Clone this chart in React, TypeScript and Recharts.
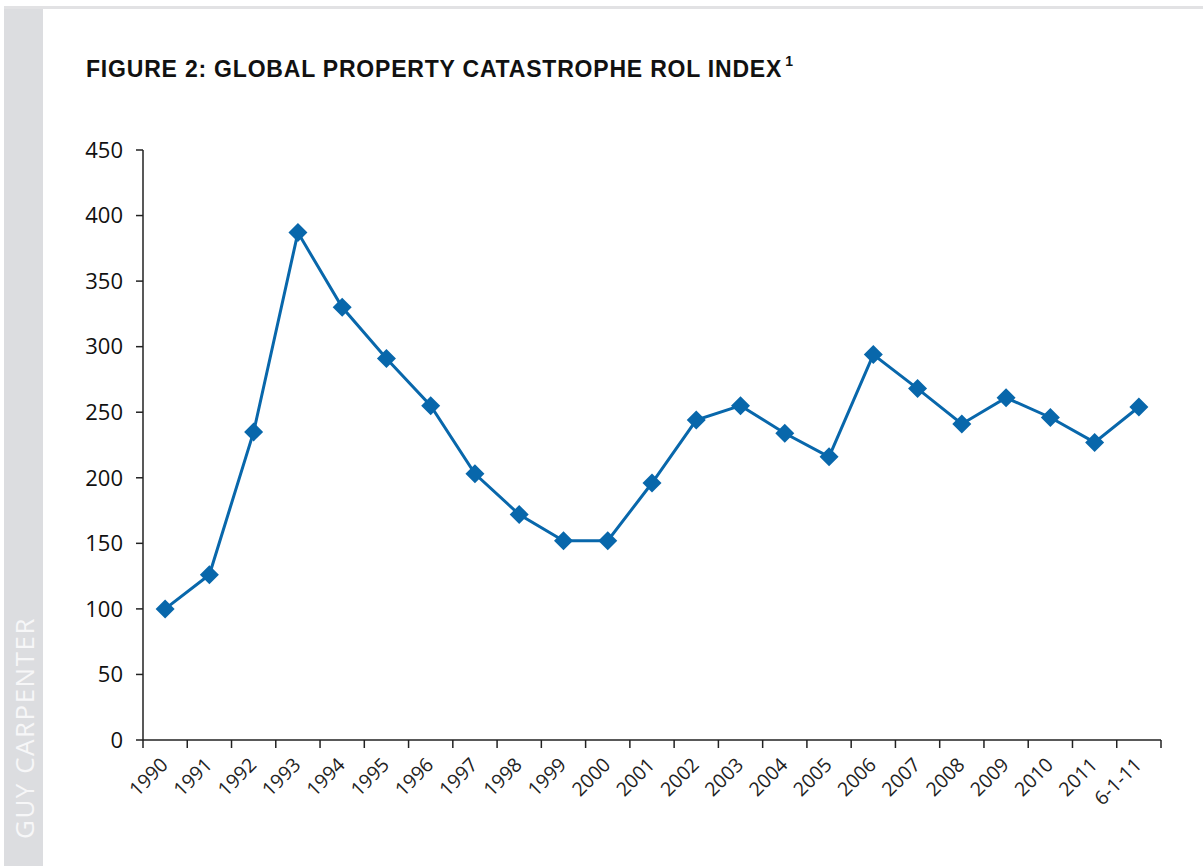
import { Line, LineChart, XAxis, YAxis } from 'recharts';

const years: string[] = [
  '1990', '1991', '1992', '1993', '1994', '1995', '1996', '1997', '1998', '1999', '2000', '2001',
  '2002', '2003', '2004', '2005', '2006', '2007', '2008', '2009', '2010', '2011', '6-1-11',
];
const rolIndex: number[] = [
  100, 126, 235, 387, 330, 291, 255, 203, 172, 152, 152, 196,
  244, 255, 234, 216, 294, 268, 241, 261, 246, 227, 254,
];
const yTicks: number[] = [0, 50, 100, 150, 200, 250, 300, 350, 400, 450];

const data = years.map((year, i) => ({ year, value: rolIndex[i] }));

const CHART_W = 1203;
const CHART_H = 866;
const LEFT = 143;
const RIGHT = 42;
const BAND = (CHART_W - LEFT - RIGHT) / years.length;
const BLUE = '#0867ab';
const INK = '#222';
const tickFont = '"Open Sans", "Noto Sans", sans-serif';

const Diamond = (props: any) => {
  const { cx, cy } = props;
  if (cx == null || cy == null) return null;
  const r = 9.5;
  return <path d={`M${cx},${cy - r}L${cx + r},${cy}L${cx},${cy + r}L${cx - r},${cy}Z`} fill={BLUE} />;
};

const YearTick = (props: any) => {
  const { x, y, payload, index } = props;
  const left = x - BAND / 2;
  const tx = x + 4;
  const ty = y + 26;
  return (
    <g>
      <line x1={left} y1={y} x2={left} y2={y + 8} stroke={INK} strokeWidth={1.5} />
      {index === years.length - 1 && (
        <line x1={x + BAND / 2} y1={y} x2={x + BAND / 2} y2={y + 8} stroke={INK} strokeWidth={1.5} />
      )}
      <text
        x={tx}
        y={ty}
        transform={`rotate(-45, ${tx}, ${ty})`}
        textAnchor="end"
        fontSize={19.5}
        fontFamily={tickFont}
        fill={INK}
      >
        {payload.value}
      </text>
    </g>
  );
};

export default function App() {
  return (
    <div style={{ position: 'absolute', left: 0, top: 0, width: CHART_W, height: CHART_H, background: '#fff', overflow: 'hidden' }}>
      <div style={{ position: 'absolute', left: 4, top: 6, width: CHART_W - 4, height: 3, background: '#e2e2e4' }} />
      <div style={{ position: 'absolute', left: 4, top: 9, width: 39, height: CHART_H - 9, background: '#dcdde0' }} />
      <div
        style={{
          position: 'absolute',
          left: 10.5,
          top: 839,
          transform: 'rotate(-90deg)',
          transformOrigin: '0 0',
          whiteSpace: 'nowrap',
          fontFamily: tickFont,
          fontSize: 26,
          lineHeight: '26px',
          color: '#f7f7f8',
          letterSpacing: 1.5,
        }}
      >
        GUY CARPENTER
      </div>
      <div
        style={{
          position: 'absolute',
          left: 86,
          top: 55.5,
          fontFamily: '"Liberation Sans", Arial, sans-serif',
          fontWeight: 700,
          fontSize: 23,
          lineHeight: '26px',
          letterSpacing: 0.8,
          color: '#111',
          whiteSpace: 'nowrap',
        }}
      >
        FIGURE 2: GLOBAL PROPERTY CATASTROPHE ROL INDEX
        <span style={{ fontSize: 14, position: 'relative', top: -11, marginLeft: 3 }}>1</span>
      </div>
      <div style={{ position: 'absolute', left: 0, top: 0 }}>
        <LineChart width={CHART_W} height={CHART_H} data={data} margin={{ top: 150, right: RIGHT, bottom: 0, left: 0 }}>
          <XAxis
            dataKey="year"
            scale="band"
            interval={0}
            height={126}
            tickSize={0}
            tickMargin={0}
            tickLine={false}
            axisLine={{ stroke: INK, strokeWidth: 1.5 }}
            tick={<YearTick />}
          />
          <YAxis
            width={LEFT}
            domain={[0, 450]}
            ticks={yTicks}
            interval={0}
            tickSize={7}
            tickMargin={13}
            axisLine={{ stroke: INK, strokeWidth: 1.5 }}
            tickLine={{ stroke: INK, strokeWidth: 1.5 }}
            tick={{ fill: '#111', fontSize: 22, fontFamily: tickFont }}
          />
          <Line
            type="linear"
            dataKey="value"
            stroke={BLUE}
            strokeWidth={3}
            dot={<Diamond />}
            activeDot={false}
            isAnimationActive={false}
          />
        </LineChart>
      </div>
    </div>
  );
}
